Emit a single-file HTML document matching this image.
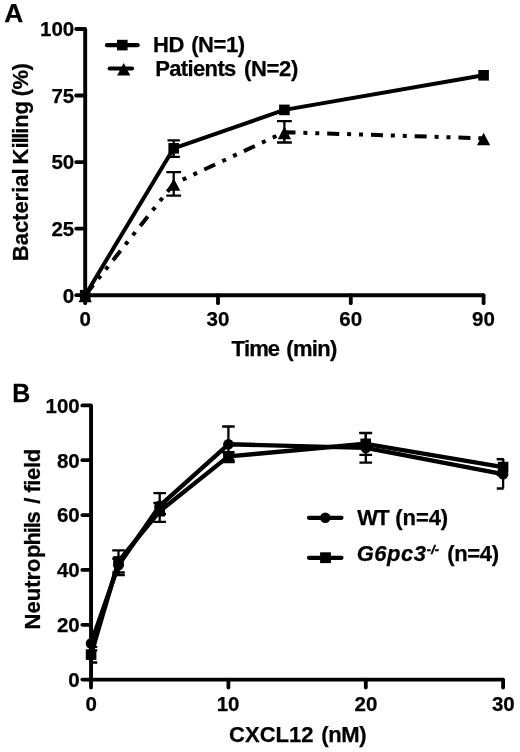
<!DOCTYPE html>
<html><head><meta charset="utf-8"><title>Figure</title>
<style>
html,body{margin:0;padding:0;background:#fff;}
body{width:520px;height:752px;overflow:hidden;}
svg{display:block;filter:blur(0.35px);}
text{font-family:"Liberation Sans",Arial,Helvetica,sans-serif;font-weight:bold;fill:#000;stroke:#000;stroke-width:0.25px;font-kerning:none;font-variant-ligatures:none;white-space:pre;}
.ax{stroke:#000;stroke-width:3.9;fill:none;}
.tk{stroke:#000;stroke-width:3.8;fill:none;stroke-linecap:round;}
.ln{stroke:#000;stroke-width:4;fill:none;stroke-linejoin:round;}
.lnb{stroke:#000;stroke-width:4.4;fill:none;stroke-linejoin:round;}
.lg{stroke:#000;stroke-width:4.2;fill:none;stroke-linecap:round;}
.eb{stroke:#000;stroke-width:2.3;fill:none;}
</style></head><body>
<svg width="520" height="752" viewBox="0 0 520 752">
<rect width="520" height="752" fill="#fff"/>

<text transform="translate(4.30 21.60)" font-size="26.3">A</text>
<text transform="translate(12.15 402.30) scale(0.95 1)" font-size="26.3">B</text>
<text transform="translate(62.80 302.50)" font-size="20.5">0</text>
<text transform="translate(51.40 235.95)" font-size="20.5">25</text>
<text transform="translate(51.40 169.40)" font-size="20.5">50</text>
<text transform="translate(51.40 102.85)" font-size="20.5">75</text>
<text transform="translate(40.00 36.30)" font-size="20.5">100</text>
<text transform="translate(79.40 326.10)" font-size="20.5">0</text>
<text transform="translate(206.50 326.10)" font-size="20.5">30</text>
<text transform="translate(339.30 326.10)" font-size="20.5">60</text>
<text transform="translate(472.10 326.10)" font-size="20.5">90</text>
<text transform="translate(68.30 687.00)" font-size="20.5">0</text>
<text transform="translate(56.90 632.16)" font-size="20.5">20</text>
<text transform="translate(56.90 577.32)" font-size="20.5">40</text>
<text transform="translate(56.90 522.48)" font-size="20.5">60</text>
<text transform="translate(56.90 467.64)" font-size="20.5">80</text>
<text transform="translate(45.50 412.80)" font-size="20.5">100</text>
<text transform="translate(85.55 710.60)" font-size="20.5">0</text>
<text transform="translate(216.70 710.60)" font-size="20.5">10</text>
<text transform="translate(354.55 710.60)" font-size="20.5">20</text>
<text transform="translate(491.90 710.60)" font-size="20.5">30</text>
<text transform="translate(231.50 355.90)" font-size="22" dx="0 -0.95 -0.95 -0.95 0 0.05 -0.65 -0.65 -0.65 -0.65">Time (min)</text>
<text transform="translate(27.70 261.15) rotate(-90)" font-size="22" dx="0 -0.04 -0.04 -0.04 -0.04 -0.04 -0.04 -0.04 -0.04 0 -2.07 -0.04 -1.2 -1.2 -1.2 -0.15 -0.14 0 -1.35 -0.54 -0.54">Bacterial Killing (%)</text>
<text transform="translate(153.00 52.40)" font-size="22" dx="0 -0.39 0 0.65 -0.42 -0.42 -0.42 -0.42">HD (N=1)</text>
<text transform="translate(155.25 75.50)" font-size="22" dx="0 -0.66 -0.66 -0.66 -0.66 -0.66 -0.66 -0.66 0 1.65 -0.36 -0.36 -0.36 -0.36">Patients (N=2)</text>
<text transform="translate(229.00 742.30)" font-size="22" dx="0 0.03 0.03 0.03 0.03 0.03 0 1.55 -0.41 -0.41 -0.41">CXCL12 (nM)</text>
<text transform="translate(40.30 629.50) rotate(-90)" font-size="22" dx="0 0.03 0.03 0.03 0.03 0.03 0.51 -1.16 -1.16 -1.16 -1.16 0 1.25 0 -1.07 -0.4 -0.4 -0.4 -0.4">Neutrophils / field</text>
<text transform="translate(357.15 525.40)" font-size="22" dx="0 -1.56 0 -0.65 -0.09 -0.09 -0.09 -0.09">WT (n=4)</text>
<text transform="translate(356.75 561.30)" font-size="22"><tspan dx="0 0.49 0.49 0.49 0.49" font-style="italic">G6pc3</tspan><tspan dx="0.76 0.18 0.18" font-style="italic" font-size="12.5" stroke-width="0.55" dy="-7.7">-/-</tspan><tspan dx="0 2.13 -0.37 -0.37 -0.37 -0.37" dy="7.7"> (n=4)</tspan></text>
<path class="ax" d="M85.2 29.0V295.2H483.6"/>
<path class="tk" d="M76.2 295.2H85.2"/>
<path class="tk" d="M76.2 228.6H85.2"/>
<path class="tk" d="M76.2 162.1H85.2"/>
<path class="tk" d="M76.2 95.5H85.2"/>
<path class="tk" d="M76.2 29.0H85.2"/>
<path class="tk" d="M85.2 295.2V303.2"/>
<path class="tk" d="M218.0 295.2V303.2"/>
<path class="tk" d="M350.8 295.2V303.2"/>
<path class="tk" d="M483.6 295.2V303.2"/>
<path class="ln" d="M85.2 295.2L173.7 148.3L284.4 109.9L483.6 75.3"/>
<path class="ln" stroke-dasharray="12 7.9 4 7.9 4 7.95" stroke-dashoffset="-1" d="M85.2 295.2L173.7 183.8L284.4 132.2L483.6 138.3"/>
<rect x="79.9" y="289.9" width="10.6" height="10.6" fill="#000"/>
<path class="eb" d="M173.7 140.4V156.9M167.5 140.4H179.9M167.5 156.9H179.9"/>
<rect x="168.4" y="143.0" width="10.6" height="10.6" fill="#000"/>
<rect x="279.1" y="104.6" width="10.6" height="10.6" fill="#000"/>
<rect x="478.3" y="70.0" width="10.6" height="10.6" fill="#000"/>
<path d="M85.2 289.6L91.8 302.2H78.6Z" fill="#000"/>
<path class="eb" d="M173.7 172.2V195.6M166.3 172.2H181.1M166.3 195.6H181.1"/>
<path d="M173.7 178.2L180.3 190.8H167.1Z" fill="#000"/>
<path class="eb" d="M284.4 121.2V142.5M277.0 121.2H291.8M277.0 142.5H291.8"/>
<path d="M284.4 126.6L291.0 139.2H277.8Z" fill="#000"/>
<path d="M483.6 132.7L490.2 145.3H477.0Z" fill="#000"/>
<path class="lg" d="M107 45.2H137.6"/><rect x="117.0" y="39.8" width="10.6" height="10.6" fill="#000"/>
<path class="lg" d="M109.7 68.5H132"/><path d="M123.7 62.9L130.3 75.5H117.1Z" fill="#000"/>
<path class="ax" d="M91.05 405.4V679.6H503.1"/>
<path class="tk" d="M82.35 679.6H91.05"/>
<path class="tk" d="M82.35 624.8H91.05"/>
<path class="tk" d="M82.35 569.9H91.05"/>
<path class="tk" d="M82.35 515.1H91.05"/>
<path class="tk" d="M82.35 460.2H91.05"/>
<path class="tk" d="M82.35 405.4H91.05"/>
<path class="tk" d="M91.0 679.6V687.6"/>
<path class="tk" d="M228.4 679.6V687.6"/>
<path class="tk" d="M365.8 679.6V687.6"/>
<path class="tk" d="M503.1 679.6V687.6"/>
<path class="lnb" d="M91.0 643.4L118.5 565.3L159.7 505.8L228.4 444.3L365.8 447.9L503.1 474.2"/>
<path class="lnb" d="M91.0 654.6L118.5 561.4L159.7 511.2L228.4 456.4L365.8 443.8L503.1 467.1"/>
<path class="eb" d="M91.0 636.4V650.4M91.0 636.4H97.3M91.0 650.4H97.3"/>
<circle cx="91.0" cy="643.4" r="5.3" fill="#000"/>
<path class="eb" d="M118.5 558.7V575.1M112.2 558.7H124.8M112.2 575.1H124.8"/>
<circle cx="118.5" cy="565.3" r="5.3" fill="#000"/>
<path class="eb" d="M159.7 493.1V514.0M153.4 493.1H166.0M153.4 514.0H166.0"/>
<circle cx="159.7" cy="505.8" r="5.3" fill="#000"/>
<path class="eb" d="M228.4 426.5V462.2M222.1 426.5H234.7M222.1 462.2H234.7"/>
<circle cx="228.4" cy="444.3" r="5.3" fill="#000"/>
<path class="eb" d="M365.8 433.1V462.7M359.4 433.1H372.1M359.4 462.7H372.1"/>
<circle cx="365.8" cy="447.9" r="5.3" fill="#000"/>
<path class="eb" d="M503.1 459.1V488.5M496.8 459.1H503.6M496.8 488.5H503.6"/>
<circle cx="503.1" cy="474.2" r="5.3" fill="#000"/>
<path class="eb" d="M91.0 646.8V662.5M91.0 646.8H97.3M91.0 662.5H97.3"/>
<rect x="85.8" y="649.3" width="10.6" height="10.6" fill="#000"/>
<path class="eb" d="M118.5 550.3V572.5M112.2 550.3H124.8M112.2 572.5H124.8"/>
<rect x="113.2" y="556.1" width="10.6" height="10.6" fill="#000"/>
<path class="eb" d="M159.7 503.0V521.9M153.4 503.0H166.0M153.4 521.9H166.0"/>
<rect x="154.4" y="505.9" width="10.6" height="10.6" fill="#000"/>
<path class="eb" d="M228.4 452.3V460.5M222.1 452.3H234.7M222.1 460.5H234.7"/>
<rect x="223.1" y="451.1" width="10.6" height="10.6" fill="#000"/>
<path class="eb" d="M365.8 432.8V454.8M359.4 432.8H372.1M359.4 454.8H372.1"/>
<rect x="360.4" y="438.5" width="10.6" height="10.6" fill="#000"/>
<path class="eb" d="M503.1 459.1V475.0M496.8 459.1H503.6M496.8 475.0H503.6"/>
<rect x="497.8" y="461.8" width="10.6" height="10.6" fill="#000"/>
<path class="lg" d="M309 517.8H341.5"/><circle cx="325.3" cy="517.8" r="5.3" fill="#000"/>
<path class="lg" d="M309 557.8H341.5"/><rect x="320.1" y="552.3" width="10.8" height="10.8" fill="#000"/>
</svg></body></html>
